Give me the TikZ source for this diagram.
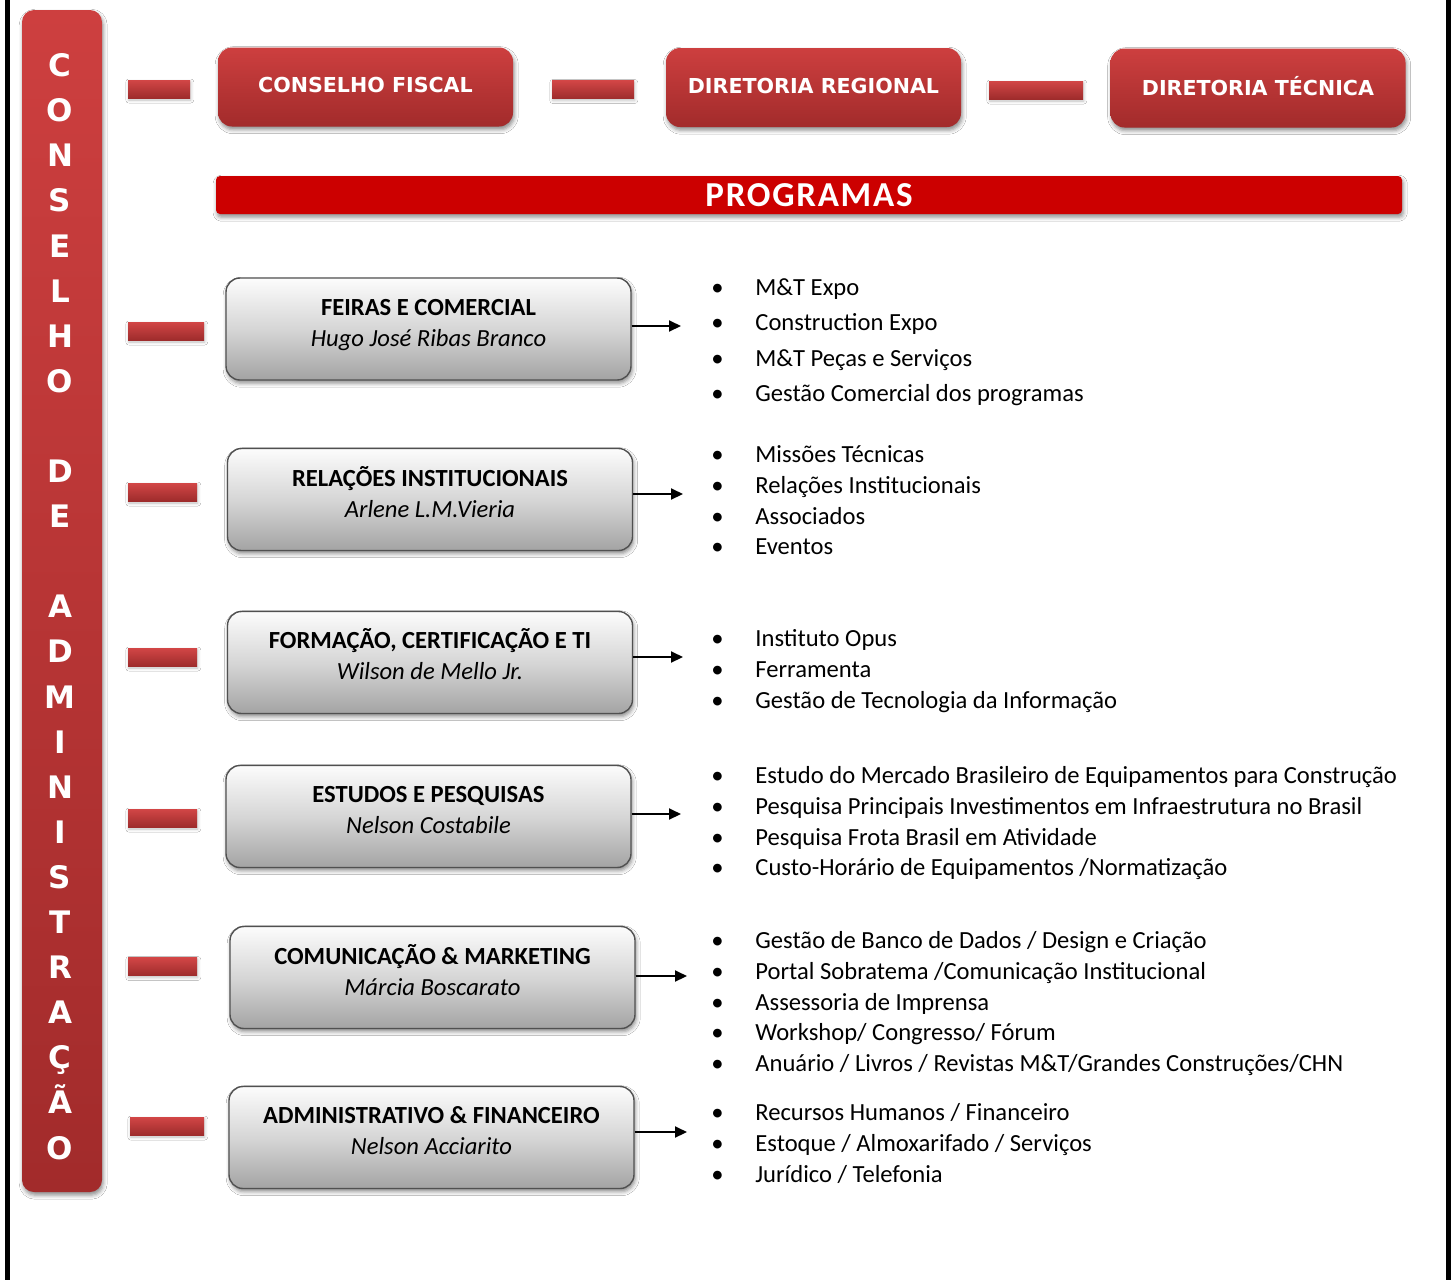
\documentclass[tikz,border=0pt]{standalone}
\usepackage{fontspec}
\setmainfont{Carlito}
\newfontfamily\hdfont{DejaVu Sans}
\newfontfamily\progfont[LetterSpace=5]{Carlito}
\usetikzlibrary{shadows,shadows.blur,arrows.meta}
\definecolor{redtop}{HTML}{CD3F3F}
\definecolor{redbot}{HTML}{A22B2B}
\definecolor{progred}{HTML}{CC0000}
\definecolor{graytop}{HTML}{FCFCFC}
\definecolor{graymid}{HTML}{D6D6D6}
\definecolor{graybot}{HTML}{A3A3A3}
\definecolor{grayline}{HTML}{505050}
\definecolor{dashtop}{HTML}{D24646}
\definecolor{dashbot}{HTML}{9E2C2C}
\newcommand\li[1]{\makebox[22pt][l]{•}#1}
\begin{document}
\begin{tikzpicture}[x=0.5pt,y=-0.5pt,
  shadowed/.style={blur shadow={shadow xshift=0.6pt,shadow yshift=-1.6pt,shadow blur radius=2pt,shadow opacity=45}},
  redbox/.style={rectangle,rounded corners=7pt,inner sep=0pt,minimum width=147.5pt,minimum height=39.5pt,
    text depth=2pt,top color=redtop,bottom color=redbot,shadowed,text=white,font=\hdfont\bfseries\fontsize{10.3}{12}\selectfont},
  sidebar/.style={rectangle,rounded corners=6pt,inner sep=0pt,minimum width=40pt,minimum height=591pt,
    top color=redtop,bottom color=redbot,shadowed},
  sidetext/.style={align=center,inner sep=0pt,text=white,font=\hdfont\bfseries\fontsize{15.5}{22.55}\selectfont},
  dashbar/.style={rectangle,inner sep=0pt,minimum height=9pt,top color=dashtop,bottom color=dashbot,
    blur shadow={shadow xshift=0.4pt,shadow yshift=-1pt,shadow blur radius=1.5pt,shadow opacity=25}},
  progbar/.style={rectangle,rounded corners=2pt,inner sep=0pt,minimum width=593pt,minimum height=19pt,
    fill=progred,shadowed,text=white,font=\progfont\bfseries\fontsize{17.5}{19}\selectfont},
  graybox/.style={rectangle,rounded corners=7pt,inner sep=0pt,minimum width=202.5pt,minimum height=51pt,
    draw=grayline,line width=0.7pt,top color=graytop,bottom color=graybot,middle color=graymid,shadowed},
  boxtext/.style={align=center,inner sep=0pt,font=\fontsize{12.3}{15.5}\selectfont},
  bullets/.style={align=left,anchor=north west,inner sep=0pt},
  bl/.style={font=\fontsize{12.3}{15.4}\selectfont},
  arr/.style={line width=1pt,-{Triangle[length=6pt,width=5.5pt]}}
]
\fill[white] (0,0) rectangle (1456,1280);
\useasboundingbox (0,0) rectangle (1456,1280);
\draw[line width=2.5pt] (7.5,0) -- (7.5,1280);
\draw[line width=2.5pt] (1448.5,0) -- (1448.5,1280);

% side bar
\node[sidebar] (cda) at (62,601) {};
\node[sidetext] (cdat) at (60,606.5) {C\\O\\N\\S\\E\\L\\H\\O\\ \\D\\E\\ \\A\\D\\M\\I\\N\\I\\S\\T\\R\\A\\Ç\\Ã\\O};

% top row
\node[dashbar,minimum width=31pt] (dc1) at (159,89) {};
\node[redbox] (cf) at (365.5,87) {CONSELHO FISCAL};
\node[dashbar,minimum width=41pt] (dc2) at (593,89.5) {};
\node[redbox] (dr) at (813.5,87.5) {DIRETORIA REGIONAL};
\node[dashbar,minimum width=47pt] (dc3) at (1036,90) {};
\node[redbox] (dt) at (1258,88) {DIRETORIA TÉCNICA};

\node[progbar] (prog) at (809,195) {PROGRAMAS};

% program boxes
\node[dashbar,minimum width=38pt] (d1) at (166,331) {};
\node[graybox] (p1) at (428.5,329) {};
\node[boxtext] (t1) at ([yshift=2.1pt]p1.center) {\textbf{FEIRAS E COMERCIAL}\strut\\\textit{Hugo José Ribas Branco}\strut};

\node[dashbar,minimum width=34.5pt] (d2) at (162.5,492) {};
\node[graybox] (p2) at (430,499.5) {};
\node[boxtext] (t2) at ([yshift=2.1pt]p2.center) {\textbf{RELAÇÕES INSTITUCIONAIS}\strut\\\textit{Arlene L.M.Vieria}\strut};

\node[dashbar,minimum width=34.5pt] (d3) at (162.5,657) {};
\node[graybox] (p3) at (430,662.5) {};
\node[boxtext] (t3) at ([yshift=2.4pt]p3.center) {\textbf{FORMAÇÃO, CERTIFICAÇÃO E TI}\strut\\\textit{Wilson de Mello Jr.}\strut};

\node[dashbar,minimum width=34.5pt] (d4) at (162.5,818) {};
\node[graybox] (p4) at (428.5,816.5) {};
\node[boxtext] (t4) at ([yshift=2.4pt]p4.center) {\textbf{ESTUDOS E PESQUISAS}\strut\\\textit{Nelson Costabile}\strut};

\node[dashbar,minimum width=34.5pt] (d5) at (162.5,966.5) {};
\node[graybox] (p5) at (432.5,977.5) {};
\node[boxtext] (t5) at ([yshift=2.1pt]p5.center) {\textbf{COMUNICAÇÃO \& MARKETING}\strut\\\textit{Márcia Boscarato}\strut};

\node[dashbar,minimum width=37pt] (d6) at (167,1126) {};
\node[graybox] (p6) at (431.5,1137.5) {};
\node[boxtext] (t6) at ([yshift=2.4pt]p6.center) {\textbf{ADMINISTRATIVO \& FINANCEIRO}\strut\\\textit{Nelson Acciarito}\strut};

% arrows
\coordinate (a1) at (681,326);
\coordinate (a2) at (683,494);
\coordinate (a3) at (683,657);
\coordinate (a4) at (681,814);
\coordinate (a5) at (687,976);
\coordinate (a6) at (687,1132);
\foreach \i in {1,...,6} \draw[arr] (p\i.east |- a\i) -- (a\i);

% bullet lists
\node[bullets,font=\fontsize{12.3}{17.65}\selectfont] (l1) at (711,275)
  {\rule{0pt}{10pt}\li{M\&T Expo}\\\li{Construction Expo}\\\li{M\&T Peças e Serviços}\\\li{Gestão Comercial dos programas}};
\node[bullets,bl] (l2) at (711,442)
  {\rule{0pt}{10pt}\li{Missões Técnicas}\\\li{Relações Institucionais}\\\li{Associados}\\\li{Eventos}};
\node[bullets,bl] (l3) at (711,626)
  {\rule{0pt}{10pt}\li{Instituto Opus}\\\li{Ferramenta}\\\li{Gestão de Tecnologia da Informação}};
\node[bullets,bl] (l4) at (711,763)
  {\rule{0pt}{10pt}\li{Estudo do Mercado Brasileiro de Equipamentos para Construção}\\\li{Pesquisa Principais Investimentos em Infraestrutura no Brasil}\\\li{Pesquisa Frota Brasil em Atividade}\\\li{Custo-Horário de Equipamentos /Normatização}};
\node[bullets,bl] (l5) at (711,928)
  {\rule{0pt}{10pt}\li{Gestão de Banco de Dados / Design e Criação}\\\li{Portal Sobratema /Comunicação Institucional}\\\li{Assessoria de Imprensa}\\\li{Workshop/ Congresso/ Fórum}\\\li{Anuário / Livros / Revistas M\&T/Grandes Construções/CHN}};
\node[bullets,bl] (l6) at (711,1100)
  {\rule{0pt}{10pt}\li{Recursos Humanos / Financeiro}\\\li{Estoque / Almoxarifado / Serviços}\\\li{Jurídico / Telefonia}};
\end{tikzpicture}
\end{document}
